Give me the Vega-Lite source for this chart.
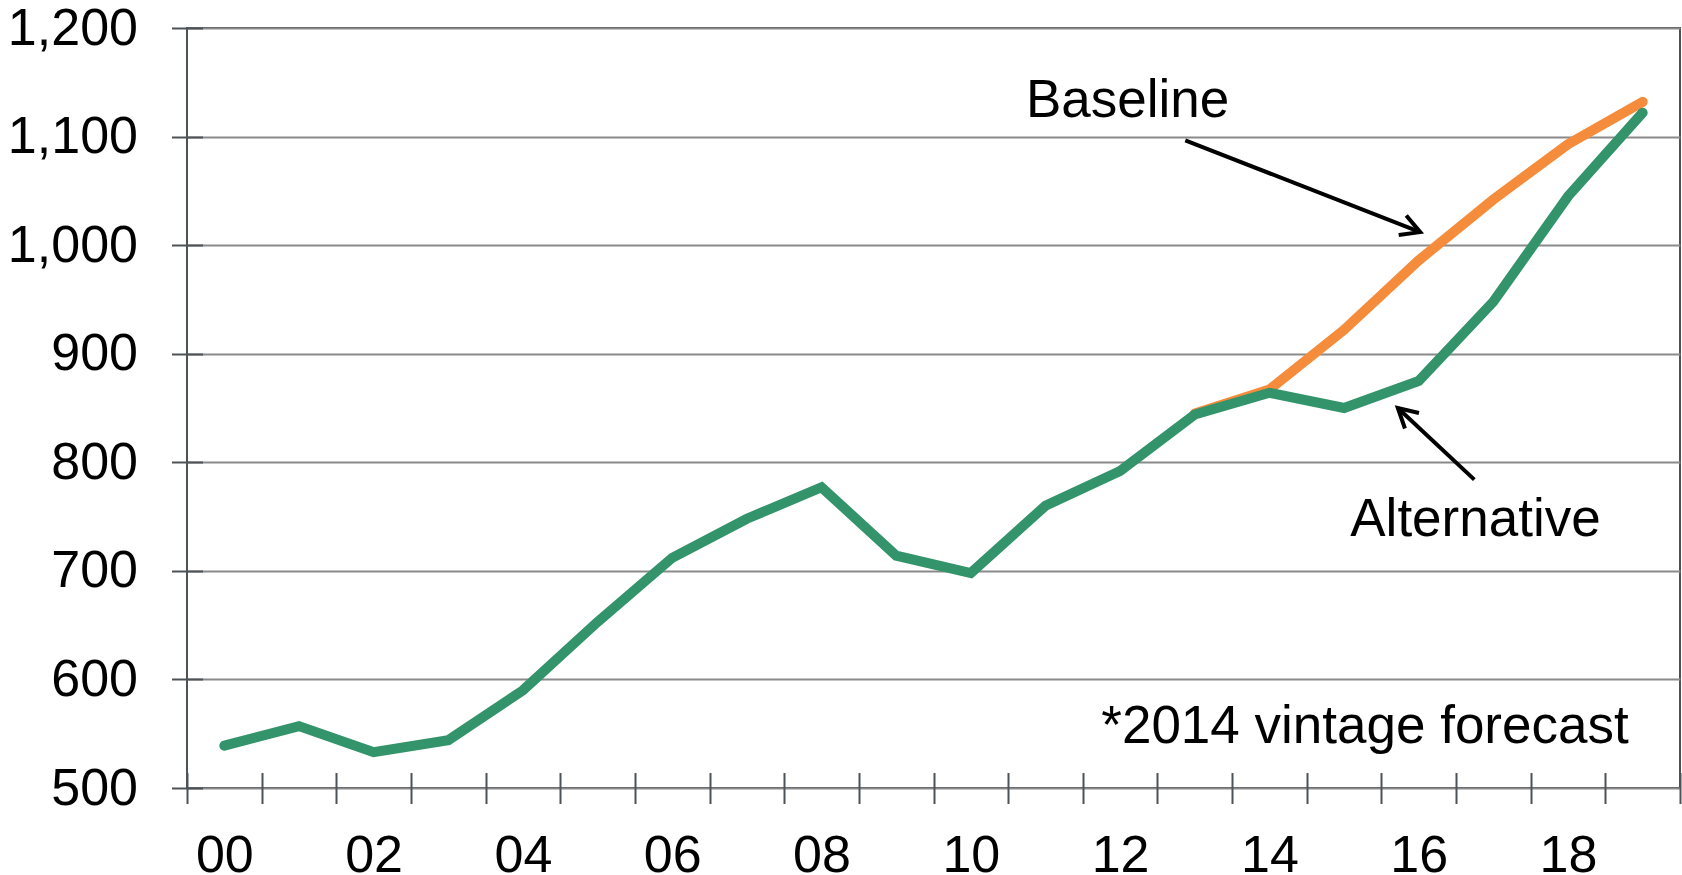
{
  "$schema": "https://vega.github.io/schema/vega-lite/v6.json",
  "width": 1493,
  "height": 760,
  "autosize": {"type": "none"},
  "padding": {"left": 187, "top": 28, "right": 2, "bottom": 87},
  "background": "white",
  "config": {
    "view": {"stroke": "#4d5257", "strokeWidth": 2},
    "font": "Liberation Sans"
  },
  "datasets": {
    "series": [
      {"year": 2000, "value": 539, "series": "Alternative"},
      {"year": 2001, "value": 557, "series": "Alternative"},
      {"year": 2002, "value": 533, "series": "Alternative"},
      {"year": 2003, "value": 544, "series": "Alternative"},
      {"year": 2004, "value": 590, "series": "Alternative"},
      {"year": 2005, "value": 653, "series": "Alternative"},
      {"year": 2006, "value": 712, "series": "Alternative"},
      {"year": 2007, "value": 748, "series": "Alternative"},
      {"year": 2008, "value": 777, "series": "Alternative"},
      {"year": 2009, "value": 714, "series": "Alternative"},
      {"year": 2010, "value": 698, "series": "Alternative"},
      {"year": 2011, "value": 760, "series": "Alternative"},
      {"year": 2012, "value": 792, "series": "Alternative"},
      {"year": 2013, "value": 844, "series": "Alternative"},
      {"year": 2014, "value": 864, "series": "Alternative"},
      {"year": 2015, "value": 850, "series": "Alternative"},
      {"year": 2016, "value": 875, "series": "Alternative"},
      {"year": 2017, "value": 948, "series": "Alternative"},
      {"year": 2018, "value": 1045, "series": "Alternative"},
      {"year": 2019, "value": 1122, "series": "Alternative"},
      {"year": 2013, "value": 845, "series": "Baseline"},
      {"year": 2014, "value": 867, "series": "Baseline"},
      {"year": 2015, "value": 922, "series": "Baseline"},
      {"year": 2016, "value": 986, "series": "Baseline"},
      {"year": 2017, "value": 1042, "series": "Baseline"},
      {"year": 2018, "value": 1093, "series": "Baseline"},
      {"year": 2019, "value": 1132, "series": "Baseline"}
    ],
    "labels": [
      {"label": "Baseline", "x": 2012.1, "y": 1118},
      {"label": "Alternative", "x": 2016.76, "y": 732},
      {"label": "*2014 vintage forecast", "x": 2015.28, "y": 541}
    ],
    "arrows": [
      {"x": 2012.873, "y": 1096.5, "x2": 2016.02, "y2": 1012, "name": "Baseline"},
      {"x": 2016.745, "y": 784.0, "x2": 2015.72, "y2": 850, "name": "Alternative"}
    ]
  },
  "layer": [
    {
      "data": {"name": "series"},
      "transform": [{"filter": "datum.series == 'Baseline'"}],
      "mark": {"type": "line", "color": "#f58c3c", "strokeWidth": 10, "strokeCap": "round", "strokeJoin": "miter"},
      "encoding": {
        "x": {
          "field": "year", "type": "quantitative",
          "scale": {"domain": [1999.5, 2019.5], "nice": false, "zero": false},
          "axis": {
            "values": [1999.5, 2000.5, 2001.5, 2002.5, 2003.5, 2004.5, 2005.5, 2006.5, 2007.5, 2008.5, 2009.5, 2010.5, 2011.5, 2012.5, 2013.5, 2014.5, 2015.5, 2016.5, 2017.5, 2018.5, 2019.5],
            "title": null,
            "grid": false,
            "domain": false,
            "offset": -15.5,
            "ticks": true,
            "tickSize": 31,
            "tickWidth": 2,
            "tickColor": "#4d5257",
            "labelExpr": "(datum.value - 1999.5) % 2 == 0 ? substring(toString(datum.value + 0.5), 2) : ''",
            "labelOffset": 37.3,
            "labelOverlap": false,
            "labelFlush": false,
            "labelPadding": 27,
            "labelFontSize": 52,
            "labelFont": "Liberation Sans",
            "labelColor": "#000000"
          }
        },
        "y": {
          "field": "value", "type": "quantitative",
          "scale": {"domain": [500, 1200], "nice": false, "zero": false},
          "axis": {
            "values": [500, 600, 700, 800, 900, 1000, 1100, 1200],
            "title": null,
            "grid": true,
            "gridColor": "#8a8a8a",
            "gridWidth": 2,
            "domain": false,
            "offset": -15.5,
            "tickSize": 31,
            "tickWidth": 2,
            "tickColor": "#4d5257",
            "labelPadding": 34,
            "labelFontSize": 52,
            "labelFont": "Liberation Sans",
            "labelColor": "#000000",
            "format": ",d"
          }
        }
      }
    },
    {
      "data": {"name": "series"},
      "transform": [{"filter": "datum.series == 'Alternative'"}],
      "mark": {"type": "line", "color": "#33936a", "strokeWidth": 10, "strokeCap": "round", "strokeJoin": "miter"},
      "encoding": {
        "x": {"field": "year", "type": "quantitative"},
        "y": {"field": "value", "type": "quantitative"}
      }
    },
    {
      "data": {"name": "arrows"},
      "mark": {"type": "rule", "color": "#000000", "strokeWidth": 4},
      "encoding": {
        "x": {"field": "x", "type": "quantitative"},
        "y": {"field": "y", "type": "quantitative"},
        "x2": {"field": "x2"},
        "y2": {"field": "y2"}
      }
    },
    {
      "data": {"name": "arrows"},
      "transform": [{"filter": "datum.name == 'Baseline'"}],
      "mark": {"type": "point", "shape": "M -1 -0.55 L 0 0 L -1 0.55", "filled": false, "stroke": "#000000", "strokeWidth": 4, "strokeJoin": "miter", "size": 1450, "angle": 21.2, "opacity": 1},
      "encoding": {
        "x": {"field": "x2", "type": "quantitative"},
        "y": {"field": "y2", "type": "quantitative"}
      }
    },
    {
      "data": {"name": "arrows"},
      "transform": [{"filter": "datum.name == 'Alternative'"}],
      "mark": {"type": "point", "shape": "M -1 -0.55 L 0 0 L -1 0.55", "filled": false, "stroke": "#000000", "strokeWidth": 4, "strokeJoin": "miter", "size": 1450, "angle": 222, "opacity": 1},
      "encoding": {
        "x": {"field": "x2", "type": "quantitative"},
        "y": {"field": "y2", "type": "quantitative"}
      }
    },
    {
      "data": {"name": "labels"},
      "mark": {"type": "text", "font": "Liberation Sans", "fontSize": 53, "align": "center", "baseline": "alphabetic", "color": "#000000"},
      "encoding": {
        "x": {"field": "x", "type": "quantitative"},
        "y": {"field": "y", "type": "quantitative"},
        "text": {"field": "label"}
      }
    }
  ]
}
